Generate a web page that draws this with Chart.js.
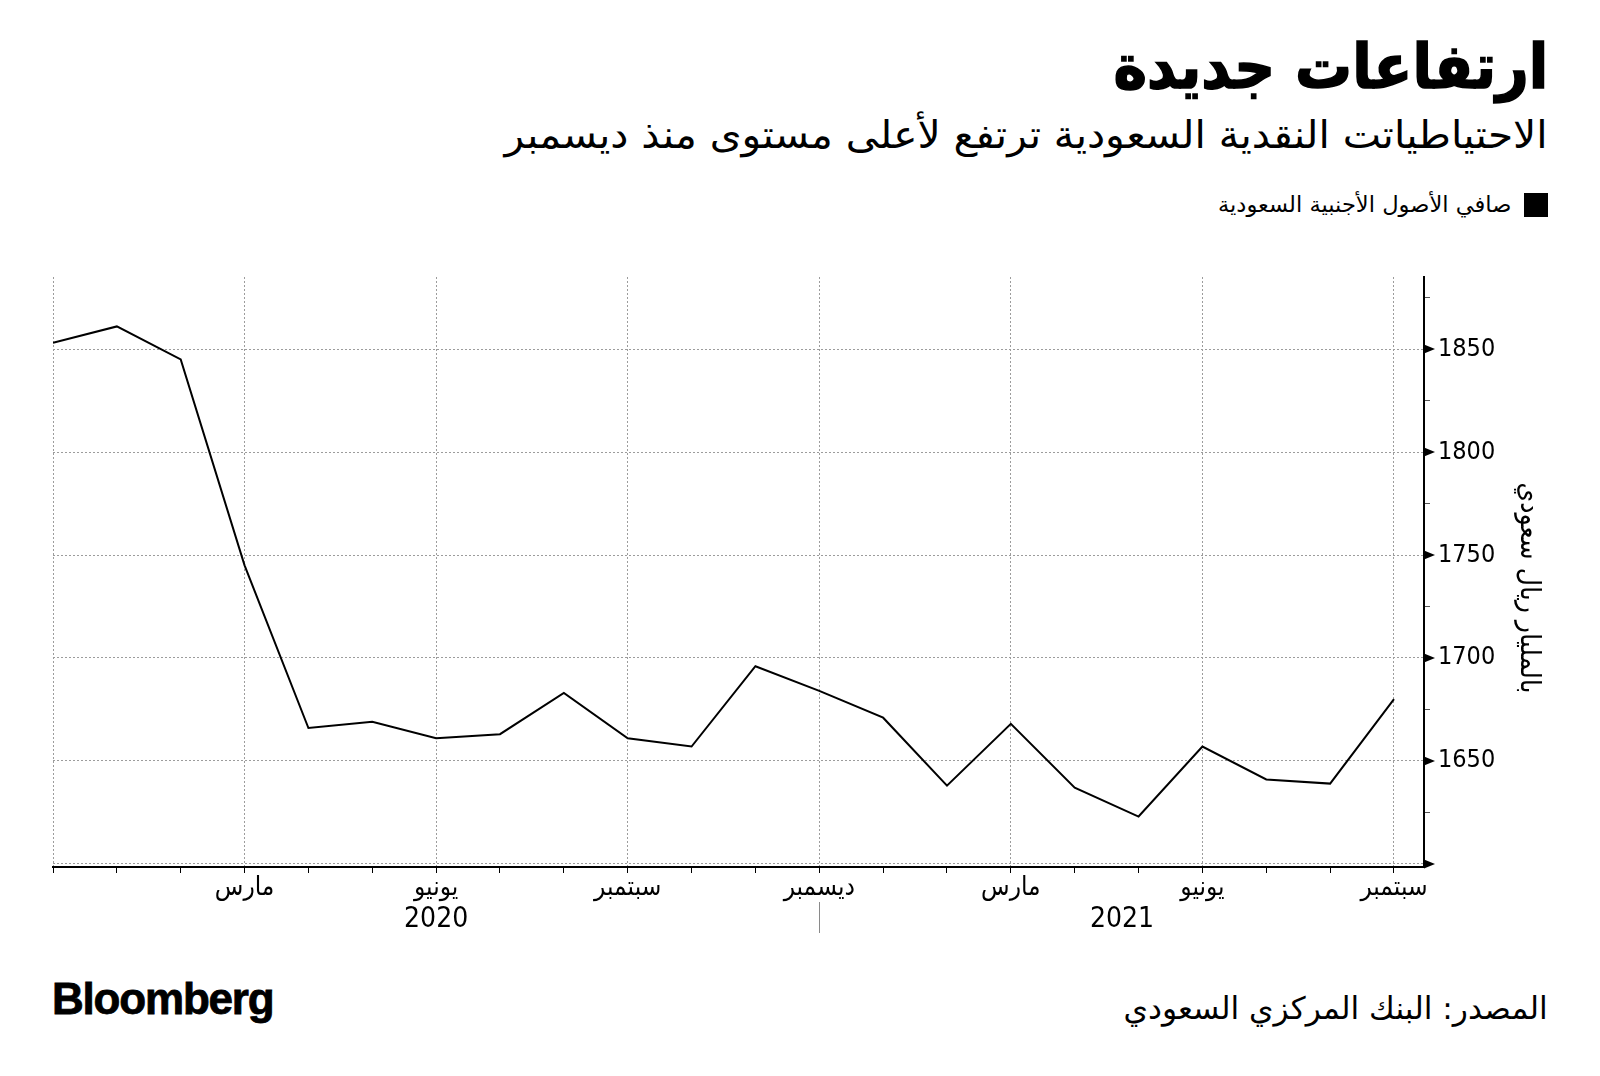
<!DOCTYPE html>
<html lang="ar">
<head>
<meta charset="utf-8">
<title>ارتفاعات جديدة</title>
<script src="https://cdn.jsdelivr.net/npm/chart.js@4.4.1/dist/chart.umd.min.js"></script>
<style>
  html, body { margin: 0; padding: 0; background: #fff; }
  body { width: 1600px; height: 1076px; position: relative; overflow: hidden;
         font-family: "DejaVu Sans Condensed", "DejaVu Sans", sans-serif; color: #000; }
  .abs { position: absolute; white-space: nowrap; transform-origin: right center; }
  #title { right: 52px; top: 27px; font-size: 62px; font-weight: bold; line-height: 80px; direction: rtl;
           -webkit-text-stroke: 1.5px #000; transform: scaleX(1.02); }
  #subtitle { right: 52px; top: 110px; font-size: 38px; line-height: 50px; direction: rtl; transform: scaleX(1.19); }
  #legend { right: 52px; top: 193px; height: 24px; display: flex; align-items: center; direction: rtl; }
  #legend .box { width: 24px; height: 24px; background: #000; margin-left: 13px; }
  #legend .txt { font-size: 22px; line-height: 24px; display: inline-block; transform: scaleX(1.14); transform-origin: right center; }
  #brand { left: 52px; top: 975px; font-family: "Liberation Sans", Arial, sans-serif; font-weight: bold;
           font-size: 44px; line-height: 48px; letter-spacing: -1.2px; -webkit-text-stroke: 0.8px #000;
           transform-origin: left center; }
  #source { right: 52px; top: 988px; font-size: 31px; line-height: 40px; direction: rtl; transform: scaleX(1.12); }
  #chartBox { position: absolute; left: 0; top: 250px; width: 1600px; height: 692px; }
</style>
</head>
<body>
<div id="title" class="abs">ارتفاعات جديدة</div>
<div id="subtitle" class="abs">الاحتياطياتت النقدية السعودية ترتفع لأعلى مستوى منذ ديسمبر</div>
<div id="legend" class="abs"><span class="box"></span><span class="txt">صافي الأصول الأجنبية السعودية</span></div>
<div id="chartBox"><canvas id="chart" width="1600" height="692"></canvas></div>
<div id="brand" class="abs">Bloomberg</div>
<div id="source" class="abs">المصدر: البنك المركزي السعودي</div>

<script>
// monthly, Dec 2019 .. Sep 2021 (billion riyals)
const months = ["2019-12", "2020-01", "2020-02", "2020-03", "2020-04", "2020-05", "2020-06",
  "2020-07", "2020-08", "2020-09", "2020-10", "2020-11", "2020-12", "2021-01", "2021-02",
  "2021-03", "2021-04", "2021-05", "2021-06", "2021-07", "2021-08", "2021-09"];
const netForeignAssets = [1853, 1861, 1845, 1745, 1666, 1669, 1661, 1663, 1683, 1661, 1657,
  1696, 1684, 1671, 1638, 1668, 1637, 1623, 1657, 1641, 1639, 1680];

const monthTickLabels = ["", "", "", "مارس", "", "", "يونيو", "", "", "سبتمبر", "", "",
  "ديسمبر", "", "", "مارس", "", "", "يونيو", "", "", "سبتمبر"];
const yearLabels = ["2020", "2021"];
const yearLabelPos = [6, 16.74];
const yearBreak = 12;
const yTicks = [1600, 1625, 1650, 1675, 1700, 1725, 1750, 1775, 1800, 1825, 1850, 1875];

const seriesLabel = "صافي الأصول الأجنبية السعودية";
const yTitle = "\u00A0\u00A0\u00A0\u00A0بالمليار ريال سعودي";

const X_MAX = 21.47;
const GRID = "#9c9c9c";
const LABEL_FONT = "'DejaVu Sans Condensed', 'DejaVu Sans', sans-serif";

// little arrow heads on the major value ticks
const tickArrows = {
  id: "tickArrows",
  afterDraw(chart) {
    const y = chart.scales.y;
    const ctx = chart.ctx;
    ctx.save();
    ctx.fillStyle = "#000";
    y.ticks.forEach(t => {
      if (t.value % 50 !== 0) return;
      const py = y.getPixelForValue(t.value);
      ctx.beginPath();
      ctx.moveTo(y.left, py - 4.5);
      ctx.lineTo(y.left + 11, py);
      ctx.lineTo(y.left, py + 4.5);
      ctx.closePath();
      ctx.fill();
    });
    ctx.restore();
  }
};

new Chart(document.getElementById("chart"), {
  type: "line",
  data: {
    datasets: [{
      label: seriesLabel,
      data: netForeignAssets.map((v, i) => ({ x: i, y: v })),
      borderColor: "#000",
      borderWidth: 2,
      pointRadius: 0,
      tension: 0,
      fill: false
    }]
  },
  options: {
    responsive: false,
    devicePixelRatio: 1,
    animation: false,
    layout: { padding: { left: 53, top: 27, right: 47, bottom: 0 } },
    plugins: { legend: { display: false }, tooltip: { enabled: false } },
    scales: {
      x: {
        type: "linear",
        position: "bottom",
        min: 0,
        max: X_MAX,
        afterBuildTicks: s => { s.ticks = months.map((m, i) => ({ value: i })); },
        afterFit: s => { s.height = 35; },
        ticks: {
          autoSkip: false,
          maxRotation: 0,
          padding: 0,
          color: "#000",
          font: { family: LABEL_FONT, size: 26 },
          callback: v => monthTickLabels[v] || ""
        },
        grid: {
          color: c => (c.tick && c.tick.value % 3 === 0) ? GRID : "rgba(0,0,0,0)",
          lineWidth: 1,
          tickColor: "#000",
          tickLength: 6,
          tickWidth: 1
        },
        border: { display: true, color: "#000", width: 2, dash: [2, 2] }
      },
      x2: {
        type: "linear",
        position: "bottom",
        min: 0,
        max: X_MAX,
        afterBuildTicks: s => {
          s.ticks = [{ value: yearLabelPos[0] }, { value: yearBreak }, { value: yearLabelPos[1] }];
        },
        afterFit: s => { s.height = 40; },
        ticks: {
          autoSkip: false,
          maxRotation: 0,
          padding: -30,
          color: "#000",
          font: { family: LABEL_FONT, size: 28 },
          callback: v => {
            const k = yearLabelPos.indexOf(v);
            return k >= 0 ? yearLabels[k] : "";
          }
        },
        grid: {
          drawOnChartArea: false,
          tickLength: 31,
          tickColor: c => (c.tick && c.tick.value === yearBreak) ? "#8a8a8a" : "rgba(0,0,0,0)",
          tickWidth: 1
        },
        border: { display: false }
      },
      y: {
        type: "linear",
        position: "right",
        min: 1598.5,
        max: 1885,
        afterBuildTicks: s => { s.ticks = yTicks.map(v => ({ value: v })); },
        afterFit: s => { s.width = 129; },
        ticks: {
          padding: 8,
          color: "#000",
          font: { family: LABEL_FONT, size: 25 },
          callback: v => (v % 50 === 0 && v > 1600) ? String(v) : ""
        },
        grid: {
          color: c => (c.tick && c.tick.value % 50 === 0) ? GRID : "rgba(0,0,0,0)",
          lineWidth: 1,
          tickColor: c => (c.tick && c.tick.value % 50 === 0) ? "rgba(0,0,0,0)" : "#555",
          tickLength: 6,
          tickWidth: 1
        },
        border: { display: true, color: "#000", width: 2, dash: [2, 2] },
        title: {
          display: true,
          text: yTitle,
          color: "#000",
          padding: { top: 8, bottom: 0 },
          font: { family: LABEL_FONT, size: 28 }
        }
      }
    }
  },
  plugins: [tickArrows]
});
</script>
</body>
</html>
